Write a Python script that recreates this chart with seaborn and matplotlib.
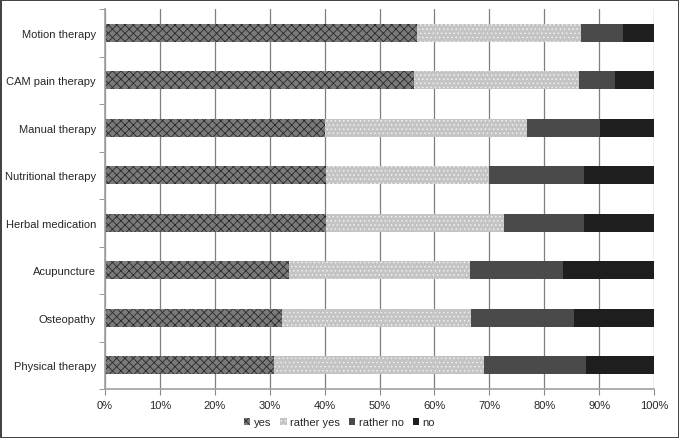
import numpy as np
import pandas as pd
import seaborn as sns
import matplotlib.pyplot as plt
from matplotlib.patches import Patch

# datos (porcentajes)
categorias = ['Motion therapy', 'CAM pain therapy', 'Manual therapy', 'Nutritional therapy',
              'Herbal medication', 'Acupuncture', 'Osteopathy', 'Physical therapy']
yes = [56.8, 56.2, 40.0, 40.3, 40.3, 33.6, 32.3, 30.7]
rather_yes = [29.9, 30.2, 36.8, 29.7, 32.3, 32.8, 34.3, 38.3]
rather_no = [7.7, 6.5, 13.3, 17.3, 14.7, 17.1, 18.9, 18.7]
no = [5.6, 7.1, 9.9, 12.7, 12.7, 16.5, 14.5, 12.3]

series = ['yes', 'rather yes', 'rather no', 'no']
colores = {'yes': '#7a7a7a', 'rather yes': '#c4c4c4', 'rather no': '#4a4a4a', 'no': '#1e1e1e'}
hatches = {'yes': 'xxxx', 'rather yes': '....', 'rather no': '', 'no': ''}
hatch_col = {'yes': '#2a2a2a', 'rather yes': '#f0f0f0', 'rather no': '#4a4a4a', 'no': '#1e1e1e'}

df = pd.DataFrame({'cat': categorias, 'yes': yes, 'rather yes': rather_yes,
                   'rather no': rather_no, 'no': no})

sns.set_style('white')
plt.rcParams['font.family'] = 'Liberation Sans'
plt.rcParams['hatch.linewidth'] = 0.6
fs = 8

fig = plt.figure(figsize=(6.79, 4.39), dpi=100, linewidth=1.0, edgecolor='#444444')
ax = fig.add_axes([105 / 679, 1 - 390 / 439, 549 / 679, 380 / 439])

# barras apiladas: se dibuja de la suma total hacia la primera serie
acum = df[series].cumsum(axis=1)
for s in reversed(series):
    n0 = len(ax.patches)
    sns.barplot(x=acum[s], y=df['cat'], orient='h', color=colores[s],
                width=0.38, ax=ax, saturation=1, linewidth=0)
    for p in ax.patches[n0:]:
        p.set_facecolor(colores[s])
        p.set_hatch(hatches[s])
        p.set_edgecolor(hatch_col[s])
        p.set_linewidth(0)

ax.set_xlim(0, 100)
ax.set_xticks(np.arange(0, 101, 10))
ax.set_xticklabels([f'{v}%' for v in range(0, 101, 10)], fontsize=fs)
ax.set_xlabel('')
ax.set_ylabel('')
ax.tick_params(axis='y', labelsize=fs, length=0, pad=6.5)
ax.set_yticks(np.arange(-0.5, len(categorias), 1), minor=True)
ax.tick_params(axis='y', which='minor', length=4, color='#888888', direction='out', left=True)
ax.tick_params(axis='x', length=4, color='#888888', direction='out', bottom=True, pad=4)
ax.set_ylim(len(categorias) - 0.5, -0.5)

ax.grid(axis='x', color='#7f7f7f', linewidth=0.9)
ax.set_axisbelow(True)
for lado in ['top', 'right']:
    ax.spines[lado].set_visible(False)
for lado in ['left', 'bottom']:
    ax.spines[lado].set_color('#a0a0a0')
    ax.spines[lado].set_linewidth(1.2)

handles = [Patch(facecolor=colores[s], hatch=hatches[s], edgecolor=hatch_col[s], linewidth=0, label=s)
           for s in series]
ax.legend(handles=handles, loc='center', bbox_to_anchor=(0.5, 1 - 423 / 439),
          bbox_transform=fig.transFigure, ncol=4, frameon=False, fontsize=fs,
          handlelength=0.6, handleheight=0.6, handletextpad=0.3, columnspacing=0.8)

fig.savefig('out.png', dpi=100, edgecolor=fig.get_edgecolor())
